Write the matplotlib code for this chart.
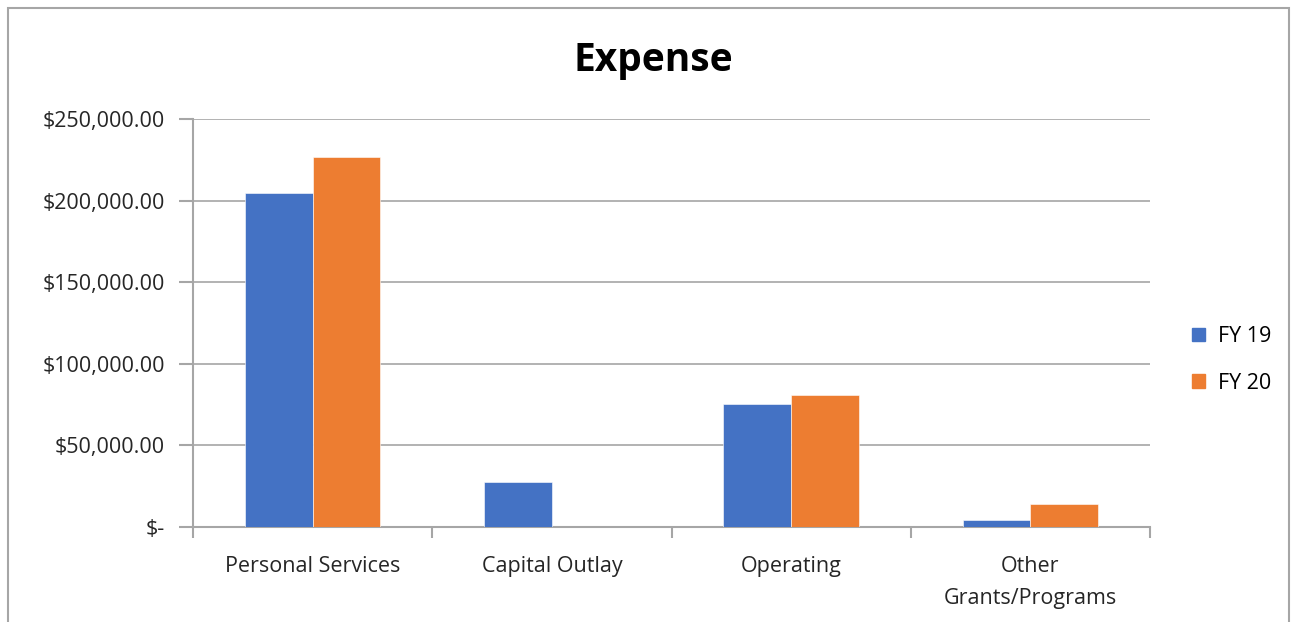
import matplotlib
matplotlib.use("Agg")
import matplotlib.pyplot as plt
import numpy as np
from matplotlib.patches import Rectangle, Patch
from matplotlib.ticker import FuncFormatter

categories = ["Personal Services", "Capital Outlay", "Operating", "Other\nGrants/Programs"]
fy19 = [204500, 27400, 75200, 4100]
fy20 = [226500, 0, 81100, 13900]
series_names = ["FY 19", "FY 20"]
colors = ["#4472C4", "#ED7D31"]
yticks = [0, 50000, 100000, 150000, 200000, 250000]

plt.rcParams["font.family"] = ["Open Sans", "DejaVu Sans"]

W, H = 1295, 622
fig = plt.figure(figsize=(W / 100, H / 100), dpi=100)

# chart border (bottom edge runs off the image, like the reference crop)
fig.patches.append(Rectangle((8 / W, -0.05), (1289 - 8) / W, 1.05 - 8 / H,
                             transform=fig.transFigure, fill=False,
                             edgecolor="#a6a6a6", lw=1.5))

ax = fig.add_axes([193 / W, 1 - 527 / H, (1150 - 193) / W, (527 - 119) / H])

x = np.arange(len(categories))
bw = 0.283
ax.bar(x - bw / 2, fy19, bw, color=colors[0], edgecolor="white", lw=0.4, zorder=3)
ax.bar(x + bw / 2, fy20, bw, color=colors[1], edgecolor="white", lw=0.4, zorder=3)

ax.set_xlim(-0.5, len(categories) - 0.5)
ax.set_ylim(0, 250000)
ax.set_yticks(yticks)
ax.yaxis.set_major_formatter(FuncFormatter(lambda v, _: "$-" if v == 0 else f"${v:,.2f}"))
ax.grid(axis="y", color="#a6a6a6", lw=1.2, zorder=0)

ax.set_xticks(x)
ax.set_xticklabels(categories, fontsize=15.5, color="#262626", linespacing=1.7)
ax.tick_params(axis="x", length=0, pad=21)
ax.set_xticks(np.arange(len(categories) + 1) - 0.5, minor=True)
ax.tick_params(axis="x", which="minor", length=8, width=1.5, color="#a6a6a6")
ax.tick_params(axis="y", length=10, width=1.5, color="#a6a6a6", labelsize=15.5,
               labelcolor="#262626", pad=10)

for s in ["top", "right"]:
    ax.spines[s].set_visible(False)
for s in ["left", "bottom"]:
    ax.spines[s].set_color("#a6a6a6")
    ax.spines[s].set_linewidth(1.5)

fig.text(653 / W, 1 - 60 / H, "Expense", ha="center", va="center",
         fontsize=28, fontweight="bold", color="black")

handles = [Patch(color=c, label=n) for c, n in zip(colors, series_names)]
fig.legend(handles=handles, loc="center left", bbox_to_anchor=(1173 / W, 1 - 360 / H),
           frameon=False, fontsize=15.5, handlelength=0.6, handleheight=0.6,
           handletextpad=0.6, labelspacing=1.2)

fig.savefig("out.png", dpi=100)
